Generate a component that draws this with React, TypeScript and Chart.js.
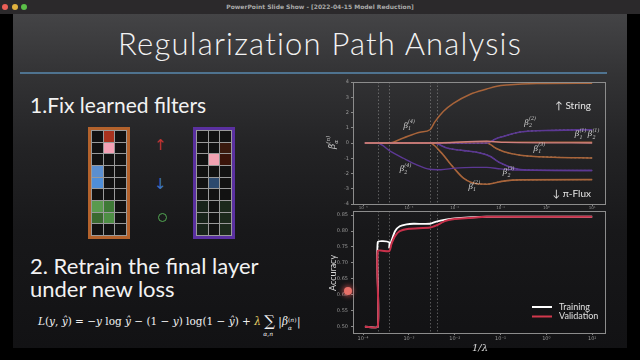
import React, { useEffect, useRef } from 'react';
import { Chart, registerables } from 'chart.js';
Chart.register(...registerables);

// ---------- data (x values are log10(1/λ)) ----------
const DECADES = [-4, -3, -2, -1, 0, 1];
const X_MIN_LOG = -4.22;
const X_MAX_LOG = 1.28;
const GUIDE_LINES = [-3.68, -3.43, -2.54, -2.38];

const TOP_Y_TICKS = [-4, -3, -2, -1, 0, 1, 2, 3, 4];
const ACC_TICKS = [0.5, 0.55, 0.6, 0.65, 0.7, 0.75, 0.8, 0.85];

// β1(4) orange, rising to String
const B14_X = [-3.96, -3.43, -3.12, -2.76, -2.54, -2.43, -2.25, -2.03, -1.66, -1.3, -1.08, -0.86, -0.21, 1.0];
const B14_Y = [0, 0, 0.33, 0.7, 0.87, 1.4, 2.07, 2.6, 3.2, 3.54, 3.72, 3.8, 3.9, 3.92];
// β2(4) purple
const B24_X = [-3.96, -3.68, -3.4, -3.12, -2.85, -2.54, -2.3, -2.0, -1.6, -1.3, -1.0, -0.6, 1.0];
const B24_Y = [0, -0.02, -0.55, -1.0, -1.4, -1.72, -1.75, -1.65, -1.6, -1.6, -1.7, -1.78, -1.8];
// β1(2) orange
const B12_X = [-3.96, -2.54, -2.32, -2.03, -1.81, -1.52, -1.3, -0.94, -0.57, 1.0];
const B12_Y = [0, 0, -0.55, -1.6, -2.3, -2.67, -2.7, -2.5, -2.42, -2.4];
// β2(3) purple
const B23_X = [-3.96, -2.45, -2.17, -1.8, -1.45, -1.23, -1.01, -0.57, 0.16, 1.0];
const B23_Y = [0, 0, -0.33, -0.5, -0.65, -0.87, -1.3, -1.74, -1.8, -1.8];
// β1(3) orange
const B13_X = [-3.96, -1.3, -1.1, -0.94, -0.57, 0.16, 1.0];
const B13_Y = [0, 0, -0.35, -0.55, -0.8, -0.93, -0.98];
// β2(2) purple
const B22_X = [-3.96, -1.3, -1.1, -0.94, -0.57, 0.16, 1.0];
const B22_Y = [0, 0, 0.28, 0.43, 0.72, 0.83, 0.87];
// β1(1) orange, β2(1) pink
const B11_X = [-3.96, -2.54, -1.3, -0.9, 1.0];
const B11_Y = [0, 0, 0.1, 0.06, 0.05];
const B21_X = [-3.96, -2.54, -1.3, -0.9, 1.0];
const B21_Y = [0, 0, 0.12, 0.04, 0.0];

// accuracy curves
const TRAIN_X = [-3.96, -3.68, -3.68, -3.43, -3.43, -3.38, -3.3, -3.2, -3.05, -2.9, -2.54, -2.4, -2.2, -2.0, -1.7, -1.3, 1.0];
const TRAIN_Y = [0.5, 0.5, 0.765, 0.765, 0.748, 0.77, 0.8, 0.815, 0.821, 0.823, 0.823, 0.83, 0.836, 0.84, 0.843, 0.845, 0.845];
const VALID_X = [-3.96, -3.68, -3.68, -3.43, -3.38, -3.3, -3.2, -3.0, -2.54, -2.4, -2.2, -2.0, -1.7, -1.3, 1.0];
const VALID_Y = [0.5, 0.5, 0.737, 0.737, 0.76, 0.785, 0.8, 0.807, 0.811, 0.818, 0.832, 0.838, 0.841, 0.845, 0.845];

// coefficient labels: [log x, y, subscript, superscript]
const BETA_LABELS: [number, number, string, string][] = [
  [-3.12, 1.0, '1', '(4)'],
  [-3.2, -1.85, '2', '(4)'],
  [-0.48, 1.2, '2', '(2)'],
  [-0.28, -0.5, '1', '(3)'],
  [-0.95, -2.05, '2', '(3)'],
  [-1.7, -3.0, '1', '(2)'],
];

const ORANGE = '#a8643a';
const ORANGE_LIGHT = '#f0c49c';
const PURPLE = '#5c3894';
const PURPLE_LIGHT = '#c6b2f0';
const PINK = '#d08080';

const pts = (xs: number[], ys: number[]) => xs.map((lx, i) => ({ x: Math.pow(10, lx), y: ys[i] }));

const SUP: Record<string, string> = { '-': '⁻', '0': '⁰', '1': '¹', '2': '²', '3': '³', '4': '⁴' };
const decadeLabel = (v: number) => {
  const e = Math.round(Math.log10(v));
  return '10' + String(e).split('').map((c) => SUP[c] || c).join('');
};

const framePlugin = {
  id: 'frame',
  beforeDatasetsDraw(chart: any) {
    const { ctx, chartArea: a, scales } = chart;
    ctx.save();
    ctx.strokeStyle = 'rgba(170,170,170,0.45)';
    ctx.setLineDash([1.5, 2]);
    ctx.lineWidth = 1;
    GUIDE_LINES.forEach((g) => {
      const px = Math.round(scales.x.getPixelForValue(Math.pow(10, g))) + 0.5;
      ctx.beginPath();
      ctx.moveTo(px, a.top);
      ctx.lineTo(px, a.bottom);
      ctx.stroke();
    });
    ctx.restore();
  },
  afterDraw(chart: any) {
    const { ctx, chartArea: a } = chart;
    ctx.save();
    ctx.strokeStyle = '#8c8c8c';
    ctx.lineWidth = 1;
    ctx.strokeRect(Math.round(a.left) + 0.5, Math.round(a.top) + 0.5, Math.round(a.right - a.left), Math.round(a.bottom - a.top));
    ctx.restore();
  },
};

function drawBeta(ctx: CanvasRenderingContext2D, x: number, y: number, sub: string, sup: string, size = 8) {
  ctx.font = `italic ${size}px "DejaVu Serif"`;
  ctx.textAlign = 'left';
  ctx.textBaseline = 'alphabetic';
  ctx.fillText('β', x, y);
  const w = ctx.measureText('β').width;
  ctx.font = `italic ${size * 0.62}px "DejaVu Serif"`;
  ctx.fillText(sup, x + w, y - size * 0.55);
  ctx.fillText(sub, x + w, y + size * 0.3);
}

const axisCommon = () => ({
  grid: { display: true, drawOnChartArea: false, drawTicks: true, tickLength: 2, color: '#888' },
  border: { display: false },
});

function TopChart() {
  const ref = useRef<HTMLCanvasElement>(null);
  useEffect(() => {
    const line = (xs: number[], ys: number[], color: string, w = 1.4, dash: number[] = []) => ({
      data: pts(xs, ys),
      borderColor: color,
      borderWidth: w,
      borderDash: dash,
      pointRadius: 0,
      cubicInterpolationMode: 'monotone' as const,
      fill: false,
    });
    const labelPlugin = {
      id: 'labels',
      afterDraw(chart: any) {
        const { ctx, chartArea: a, scales } = chart;
        ctx.save();
        ctx.fillStyle = '#cfcfcf';
        BETA_LABELS.forEach(([lx, y, sub, sup]) => {
          const px = scales.x.getPixelForValue(Math.pow(10, lx));
          const py = scales.y.getPixelForValue(y);
          drawBeta(ctx, px, py, sub, sup);
        });
        const px = scales.x.getPixelForValue(Math.pow(10, 0.62));
        const py = scales.y.getPixelForValue(0.45);
        drawBeta(ctx, px, py, '1', '(1)');
        drawBeta(ctx, px + 13, py, '2', '(1)');
        ctx.fillStyle = '#e6e6e6';
        ctx.font = '10px Lato';
        ctx.textAlign = 'right';
        ctx.textBaseline = 'middle';
        ctx.fillText('↑ String', a.right - 14, scales.y.getPixelForValue(2.45));
        ctx.fillText('↓ π-Flux', a.right - 14, scales.y.getPixelForValue(-3.3));
        ctx.save();
        ctx.translate(15, (a.top + a.bottom) / 2 + 6);
        ctx.rotate(-Math.PI / 2);
        ctx.fillStyle = '#cfcfcf';
        drawBeta(ctx, 0, 0, 'α', '(n)', 9);
        ctx.restore();
        ctx.restore();
      },
    };
    const chart = new Chart(ref.current!, {
      type: 'line',
      data: {
        datasets: [
          line(B21_X, B21_Y, PINK, 1.3),
          line(B11_X, B11_Y, ORANGE, 1.3),
          line(B24_X, B24_Y, PURPLE, 1.4),
          line(B23_X, B23_Y, PURPLE, 1.6),
          line(B23_X, B23_Y, PURPLE_LIGHT, 0.8, [2, 2]),
          line(B22_X, B22_Y, PURPLE, 1.6),
          line(B22_X, B22_Y, PURPLE_LIGHT, 0.8, [2, 2]),
          line(B13_X, B13_Y, ORANGE, 1.6),
          line(B13_X, B13_Y, ORANGE_LIGHT, 0.8, [2, 2]),
          line(B12_X, B12_Y, ORANGE, 1.6),
          line(B12_X, B12_Y, ORANGE_LIGHT, 0.8, [2, 2]),
          line(B14_X, B14_Y, ORANGE, 1.5),
        ] as any,
      },
      options: {
        animation: false,
        responsive: false,
        maintainAspectRatio: false,
        layout: { padding: { top: 6, right: 10, left: 0, bottom: 0 } },
        plugins: { legend: { display: false }, tooltip: { enabled: false } },
        scales: {
          x: {
            type: 'logarithmic',
            min: Math.pow(10, X_MIN_LOG),
            max: Math.pow(10, X_MAX_LOG),
            afterBuildTicks: (s: any) => { s.ticks = DECADES.map((d) => ({ value: Math.pow(10, d) })); },
            afterFit: (s: any) => { s.height = 8; },
            ticks: { callback: (v: any) => decadeLabel(Number(v)), font: { size: 4, family: 'DejaVu Sans' }, color: '#999', padding: 0, maxRotation: 0, autoSkip: false },
            ...axisCommon(),
          },
          y: {
            min: -4,
            max: 4,
            afterBuildTicks: (s: any) => { s.ticks = TOP_Y_TICKS.map((v) => ({ value: v })); },
            afterFit: (s: any) => { s.width = 33; },
            ticks: { font: { size: 5, family: 'DejaVu Sans' }, color: '#999', padding: 2 },
            ...axisCommon(),
          },
        } as any,
      },
      plugins: [framePlugin, labelPlugin],
    });
    return () => chart.destroy();
  }, []);
  return <canvas ref={ref} width={295} height={136} style={{ position: 'absolute', left: 320, top: 76 }} />;
}

function AccChart() {
  const ref = useRef<HTMLCanvasElement>(null);
  useEffect(() => {
    const extra = {
      id: 'accExtra',
      afterDraw(chart: any) {
        const { ctx, chartArea: a } = chart;
        ctx.save();
        const lx = 212, ly1 = 102, ly2 = 111.5;
        ctx.lineWidth = 2;
        ctx.strokeStyle = '#ffffff';
        ctx.beginPath(); ctx.moveTo(lx, ly1); ctx.lineTo(lx + 20, ly1); ctx.stroke();
        ctx.strokeStyle = '#d2384c';
        ctx.beginPath(); ctx.moveTo(lx, ly2); ctx.lineTo(lx + 20, ly2); ctx.stroke();
        ctx.fillStyle = '#e0e0e0';
        ctx.font = '9px Lato';
        ctx.textBaseline = 'middle';
        ctx.textAlign = 'left';
        ctx.fillText('Training', lx + 27, ly1);
        ctx.fillText('Validation', lx + 27, ly2);
        ctx.font = 'italic 10px "DejaVu Serif"';
        ctx.textAlign = 'center';
        ctx.fillStyle = '#d8d8d8';
        ctx.fillText('1/λ', (a.left + a.right) / 2 + 1, a.bottom + 15);
        ctx.translate(13, 68);
        ctx.rotate(-Math.PI / 2);
        ctx.font = '9px Lato';
        ctx.fillText('Accuracy', 0, 0);
        ctx.restore();
      },
    };
    const chart = new Chart(ref.current!, {
      type: 'line',
      data: {
        datasets: [
          { label: 'Validation', data: pts(VALID_X, VALID_Y), borderColor: '#c8304a', borderWidth: 2, pointRadius: 0, tension: 0.2 },
          { label: 'Validation', data: pts(VALID_X, VALID_Y), borderColor: '#e8899a', borderWidth: 0.6, pointRadius: 0, tension: 0.2 },
          { label: 'Training', data: pts(TRAIN_X, TRAIN_Y), borderColor: '#ffffff', borderWidth: 1.8, pointRadius: 0, tension: 0.2 },
        ] as any,
      },
      options: {
        animation: false,
        responsive: false,
        maintainAspectRatio: false,
        layout: { padding: { top: 5, right: 10, left: 0, bottom: 0 } },
        plugins: { legend: { display: false }, tooltip: { enabled: false } },
        scales: {
          x: {
            type: 'logarithmic',
            min: Math.pow(10, X_MIN_LOG),
            max: Math.pow(10, X_MAX_LOG),
            afterBuildTicks: (s: any) => { s.ticks = DECADES.map((d) => ({ value: Math.pow(10, d) })); },
            afterFit: (s: any) => { s.height = 22; },
            ticks: { callback: (v: any) => decadeLabel(Number(v)), font: { size: 5, family: 'DejaVu Sans' }, color: '#999', padding: 1, maxRotation: 0, autoSkip: false },
            ...axisCommon(),
          },
          y: {
            min: 0.48,
            max: 0.863,
            afterBuildTicks: (s: any) => { s.ticks = ACC_TICKS.map((v) => ({ value: v })); },
            afterFit: (s: any) => { s.width = 33; },
            ticks: { callback: (v: any) => Number(v).toFixed(2), font: { size: 5, family: 'DejaVu Sans' }, color: '#999', padding: 3 },
            ...axisCommon(),
          },
        } as any,
      },
      plugins: [framePlugin, extra],
    });
    return () => chart.destroy();
  }, []);
  return <canvas ref={ref} width={295} height={150} style={{ position: 'absolute', left: 320, top: 205 }} />;
}

const LEFT_CELLS: Record<string, string> = {
  '0,1': '#a8321e', '1,1': '#f4a2b6', '3,0': '#5b8fd0', '4,0': '#4f8ed8',
  '6,0': '#5a9a4e', '6,1': '#3e7a36', '7,0': '#3b6a30', '7,1': '#4e8e44',
};
const RIGHT_CELLS: Record<string, string> = {
  '1,2': '#3a1a0e', '2,1': '#f2a2b2', '2,2': '#3a140a', '4,1': '#2d4a6e',
  '6,0': '#18241a', '7,0': '#18241a', '8,0': '#18241a', '6,2': '#1c2a1c', '7,2': '#1c2a1c', '8,2': '#1c2a1c',
};

function FilterGrid({ left, border, cells }: { left: number; border: string; cells: Record<string, string> }) {
  const items = [];
  for (let r = 0; r < 9; r++) for (let c = 0; c < 3; c++) {
    items.push(<div key={r + '-' + c} style={{ background: cells[r + ',' + c] || '#121212' }} />);
  }
  return (
    <div style={{ position: 'absolute', left, top: 127, width: 34, height: 104, border: `3px solid ${border}`, background: '#9a9a9a',
      display: 'grid', gridTemplateColumns: 'repeat(3, 1fr)', gridTemplateRows: 'repeat(9, 1fr)', gap: 1, padding: 1 }}>
      {items}
    </div>
  );
}

export default function App() {
  const txt: React.CSSProperties = { position: 'absolute', color: '#f2f2f2', fontFamily: 'Lato', lineHeight: 1, whiteSpace: 'nowrap' };
  return (
    <div style={{ position: 'fixed', left: 0, top: 0, width: 640, height: 360, background: '#000', overflow: 'hidden' }}>
      <div style={{ position: 'absolute', left: 0, top: 0, width: 640, height: 14, background: '#2b292b' }} />
      {['#ec5f57', '#e2b23e', '#5bbf48'].map((c, i) => (
        <div key={c} style={{ position: 'absolute', left: 2 + i * 9.5, top: 4, width: 6, height: 6, borderRadius: 3, background: c }} />
      ))}
      <div style={{ position: 'absolute', left: 0, top: 3, width: 640, textAlign: 'center', color: '#a9a9a9', font: 'bold 6px "DejaVu Sans"' }}>
        PowerPoint Slide Show - [2022-04-15 Model Reduction]
      </div>
      <div style={{ position: 'absolute', left: 13, top: 14, width: 614, height: 334,
        background: 'linear-gradient(180deg, #444446 0%, #333335 18%, #232325 40%, #18181a 65%, #121214 100%)' }} />
      <div style={{ ...txt, left: 0, width: 640, textAlign: 'center', top: 28, fontSize: 31, fontWeight: 300, letterSpacing: 1.2 }}>Regularization Path Analysis</div>
      <div style={{ position: 'absolute', left: 20, top: 72, width: 587, height: 2, background: '#4f7390' }} />

      <div style={{ ...txt, left: 30, top: 94, fontSize: 21 }}>1.Fix learned filters</div>
      <FilterGrid left={88} border="#b3622c" cells={LEFT_CELLS} />
      <FilterGrid left={193} border="#5a30a0" cells={RIGHT_CELLS} />
      <div style={{ ...txt, left: 154, top: 138, fontSize: 15, color: '#c23434', fontFamily: 'DejaVu Sans' }}>↑</div>
      <div style={{ ...txt, left: 154, top: 177, fontSize: 15, color: '#3a72c4', fontFamily: 'DejaVu Sans' }}>↓</div>
      <div style={{ position: 'absolute', left: 158, top: 213, width: 7, height: 7, borderRadius: 5, border: '1.5px solid #52a852' }} />

      <div style={{ ...txt, left: 30, top: 255, fontSize: 22 }}>2. Retrain the final layer</div>
      <div style={{ ...txt, left: 30, top: 278, fontSize: 22 }}>under new loss</div>
      <div style={{ position: 'absolute', left: 38, top: 313, color: '#f0f0f0', fontFamily: '"DejaVu Serif"', fontSize: 10.5, whiteSpace: 'nowrap', lineHeight: 1 }}>
        <i>L</i>(<i>y</i>, <i>ŷ</i>) = −<i>y</i> log <i>ŷ</i> − (1 − <i>y</i>) log(1 − <i>ŷ</i>) + <i style={{ color: '#e8d36a' }}>λ</i>{' '}
        <span style={{ position: 'relative', display: 'inline-block', fontSize: 15, top: 1 }}>∑
          <span style={{ position: 'absolute', left: -1, top: 17, fontSize: 6, fontStyle: 'italic' }}>α,n</span>
        </span>{' '}
        |<i>β</i><span style={{ position: 'relative', display: 'inline-block', fontSize: 6, width: 9 }}>
          <span style={{ position: 'absolute', left: 0, top: -8 }}>(<i>n</i>)</span>
          <span style={{ position: 'absolute', left: 0, top: 0 }}><i>α</i></span>
        </span>|
      </div>

      <TopChart />
      <AccChart />
      <div style={{ position: 'absolute', left: 344, top: 287, width: 8, height: 8, borderRadius: 4, background: '#e87068', boxShadow: '0 0 4px 2px rgba(230,90,90,0.5)' }} />
    </div>
  );
}
